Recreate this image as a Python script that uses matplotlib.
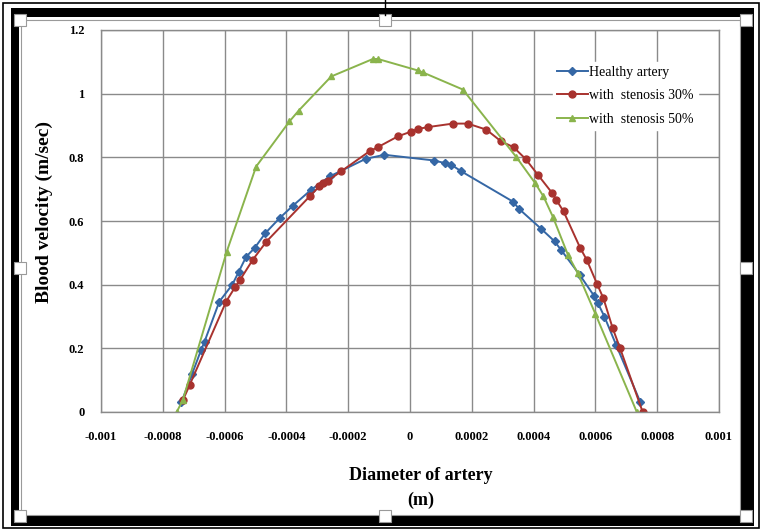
import numpy as np
import matplotlib
matplotlib.use("Agg")
import matplotlib.pyplot as plt
from matplotlib.patches import Rectangle
from matplotlib.lines import Line2D

# velocity profiles across the artery diameter
healthy_x = [-0.00074, -0.000705, -0.000676, -0.000665, -0.000617, -0.000575, -0.000554, -0.00053,
             -0.000503, -0.000468, -0.000422, -0.000379, -0.00032, -0.00026, -0.000144, -0.000083,
             0.000079, 0.000112, 0.000133, 0.000166, 0.000333, 0.000354, 0.000425, 0.000468,
             0.000489, 0.000549, 0.000597, 0.000608, 0.000629, 0.000667, 0.000745]
healthy_v = [0.03, 0.12, 0.195, 0.221, 0.347, 0.40, 0.441, 0.488,
             0.515, 0.562, 0.609, 0.648, 0.698, 0.74, 0.795, 0.808,
             0.79, 0.782, 0.777, 0.756, 0.661, 0.637, 0.575, 0.536,
             0.509, 0.431, 0.363, 0.342, 0.30, 0.211, 0.032]

sten30_x = [-0.000735, -0.000713, -0.000595, -0.000565, -0.00055, -0.000509, -0.000465, -0.000325,
            -0.000293, -0.00028, -0.000265, -0.000223, -0.000131, -0.000104, -0.000039, 0.000004,
            0.000025, 0.000058, 0.000139, 0.000187, 0.000247, 0.000295, 0.000335, 0.000374,
            0.000414, 0.00046, 0.000473, 0.000497, 0.000551, 0.000572, 0.000605, 0.000626,
            0.000656, 0.00068, 0.000753]
sten30_v = [0.037, 0.085, 0.347, 0.394, 0.415, 0.478, 0.535, 0.677,
            0.709, 0.718, 0.727, 0.756, 0.819, 0.832, 0.866, 0.881,
            0.889, 0.895, 0.906, 0.906, 0.887, 0.85, 0.832, 0.795,
            0.745, 0.688, 0.667, 0.63, 0.515, 0.478, 0.403, 0.357,
            0.263, 0.2, 0.0]

sten50_x = [-0.000755, -0.000735, -0.000593, -0.000498, -0.00039, -0.00036, -0.000255, -0.00012,
            -0.000104, 0.000025, 0.000041, 0.000171, 0.000344, 0.000405, 0.000432, 0.000462,
            0.000511, 0.000543, 0.0006, 0.000734]
sten50_v = [0.0, 0.038, 0.504, 0.771, 0.913, 0.947, 1.054, 1.109,
            1.109, 1.073, 1.067, 1.013, 0.801, 0.719, 0.677, 0.614,
            0.494, 0.436, 0.308, 0.0]

x_ticks = [-0.001, -0.0008, -0.0006, -0.0004, -0.0002, 0, 0.0002, 0.0004, 0.0006, 0.0008, 0.001]
x_labels = ["-0.001", "-0.0008", "-0.0006", "-0.0004", "-0.0002", "0",
            "0.0002", "0.0004", "0.0006", "0.0008", "0.001"]
y_ticks = [0, 0.2, 0.4, 0.6, 0.8, 1.0, 1.2]
y_labels = ["0", "0.2", "0.4", "0.6", "0.8", "1", "1.2"]

W, H = 761, 529
plt.rcParams['font.family'] = ['Liberation Serif', 'DejaVu Serif']

fig = plt.figure(figsize=(W / 100, H / 100), dpi=100)
fig.patch.set_facecolor('white')

ax = fig.add_axes([101 / W, 1 - 412 / H, 618 / W, 382 / H])
ax.set_xlim(-0.001, 0.001)
ax.set_ylim(0, 1.2)

grid_c = '#8a8a8a'
ax.set_xticks(x_ticks)
ax.set_xticklabels(x_labels, fontsize=9, fontweight='bold')
ax.set_yticks(y_ticks)
ax.set_yticklabels(y_labels, fontsize=9, fontweight='bold')
ax.tick_params(axis='both', length=0)
ax.tick_params(axis='x', pad=14)
ax.tick_params(axis='y', pad=12)
ax.grid(True, color=grid_c, linewidth=1.0)
ax.set_axisbelow(True)
for s in ax.spines.values():
    s.set_color(grid_c)
    s.set_linewidth(1.0)

blue = '#3567a5'
red = '#a8322e'
green = '#8ab44c'

ax.plot(healthy_x, healthy_v, color=blue, lw=1.4, marker='D', ms=4,
        label='Healthy artery')
ax.plot(sten30_x, sten30_v, color=red, lw=1.4, marker='o', ms=5,
        label='with  stenosis 30%')
ax.plot(sten50_x, sten50_v, color=green, lw=1.4, marker='^', ms=5,
        label='with  stenosis 50%')

leg = ax.legend(loc='upper left', bbox_to_anchor=(0.72, 0.935), frameon=True,
                fontsize=10, handlelength=2.2, handletextpad=0.1,
                labelspacing=0.75, borderpad=0.3, fancybox=False)
leg.get_frame().set_edgecolor('white')
leg.get_frame().set_facecolor('white')
leg.get_frame().set_alpha(1)

fig.text(44 / W, 1 - 212 / H, 'Blood velocity (m/sec)', rotation=90,
         ha='center', va='center', fontsize=14, fontweight='bold')
fig.text(421 / W, 1 - 476 / H, 'Diameter of artery', ha='center', va='center',
         fontsize=13, fontweight='bold')
fig.text(421 / W, 1 - 500 / H, '(m)', ha='center', va='center',
         fontsize=13, fontweight='bold')


# selection frame around the embedded chart
def px_rect(x0, y0, x1, y1, **kw):
    r = Rectangle((x0 / W, 1 - y1 / H), (x1 - x0) / W, (y1 - y0) / H,
                  transform=fig.transFigure, **kw)
    fig.add_artist(r)
    return r


px_rect(3, 3, W - 2, H - 1, fill=False, edgecolor='black', lw=1.2)
# thick black band: left, top, right, bottom
px_rect(11, 8, 19, H - 3, facecolor='black', edgecolor='none')
px_rect(11, 8, W - 8, 17, facecolor='black', edgecolor='none')
px_rect(741, 8, 754, H - 3, facecolor='black', edgecolor='none')
px_rect(11, 516, W - 8, H - 3, facecolor='black', edgecolor='none')
px_rect(21, 20, W - 21, H - 14, fill=False, edgecolor='#9a9a9a', lw=0.8)

fig.add_artist(Line2D([385 / W, 385 / W], [1.0, 1 - 15 / H], transform=fig.transFigure,
                      color='black', lw=1))
for hx, hy in [(20, 20), (385, 20), (746, 20), (20, 268), (746, 268),
               (20, 516), (385, 516), (746, 516)]:
    px_rect(hx - 6, hy - 6, hx + 6, hy + 6, facecolor='white', edgecolor='#9a9a9a', lw=0.8)

fig.savefig('out.png', dpi=100)
